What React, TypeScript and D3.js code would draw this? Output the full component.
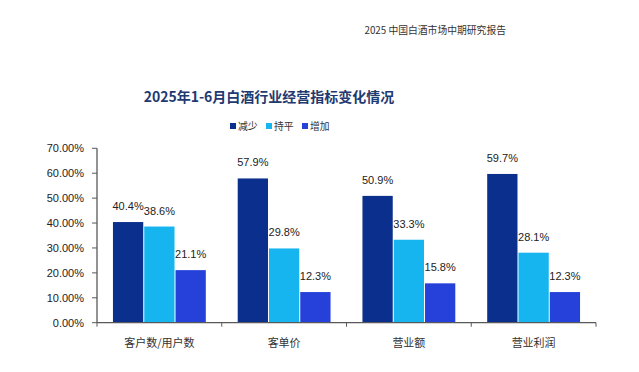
import React from "react";
import * as d3 from "d3";

const categories = ["客户数/用户数", "客单价", "营业额", "营业利润"];
const seriesNames = ["减少", "持平", "增加"];
const decrease = [40.4, 57.9, 50.9, 59.7];
const flat = [38.6, 29.8, 33.3, 28.1];
const increase = [21.1, 12.3, 15.8, 12.3];
const yTicks = [0, 10, 20, 30, 40, 50, 60, 70];
const colors = ["#0b2f8c", "#17b5ef", "#2541d9"];

const W = 639;
const H = 372;
const m = { left: 97, right: 43, top: 148.3, bottom: 49.3 };

export default function App() {
  const series = [decrease, flat, increase];
  const x = d3.scaleBand<string>().domain(categories).range([m.left, W - m.right]).paddingInner(0).paddingOuter(0);
  const inner = d3.scaleBand<string>().domain(seriesNames).range([0, x.bandwidth()]).paddingInner(0.032).paddingOuter(0.51);
  const y = d3.scaleLinear().domain([0, 70]).range([H - m.bottom, m.top]);
  const axisColor = "#595959";
  const numFont = "'Liberation Sans', Arial, sans-serif";
  const cjkFont = "'Noto Sans CJK SC', sans-serif";
  const base = y(0);

  const legendX = [230, 266, 302];

  return (
    <svg width={W} height={H} style={{ position: "absolute", left: 0, top: 0, background: "#fff" }}>
      <rect width={W} height={H} fill="#fff" />
      <text x={506} y={34} textAnchor="end" fontSize={9.8} fill="#333" fontFamily={cjkFont}>
        2025 中国白酒市场中期研究报告
      </text>
      <text x={269} y={102} textAnchor="middle" fontSize={14} fontWeight="bold" fill="#1f3a70" fontFamily={cjkFont}>
        2025年1-6月白酒行业经营指标变化情况
      </text>
      {seriesNames.map((s, i) => (
        <g key={s}>
          <rect x={legendX[i]} y={123} width={6} height={6} fill={colors[i]} />
          <text x={legendX[i] + 8} y={129.5} fontSize={9.8} fill="#333" fontFamily={cjkFont}>
            {s}
          </text>
        </g>
      ))}
      {categories.map((c, ci) => (
        <g key={c}>
          {series.map((vals, si) => {
            const bx = (x(c) as number) + (inner(seriesNames[si]) as number);
            const bw = inner.bandwidth();
            const v = vals[ci];
            return (
              <g key={si}>
                <rect x={bx} y={y(v)} width={bw} height={base - y(v)} fill={colors[si]} />
                <text x={bx + bw / 2} y={y(v) - 12} textAnchor="middle" fontSize={11} fill="#222" fontFamily={numFont}>
                  {v.toFixed(1)}%
                </text>
              </g>
            );
          })}
          <text x={(x(c) as number) + x.bandwidth() / 2} y={347} textAnchor="middle" fontSize={11} fill="#333" fontFamily={cjkFont}>
            {c}
          </text>
        </g>
      ))}
      <line x1={m.left} x2={m.left} y1={y(70)} y2={base} stroke={axisColor} strokeWidth={1.3} />
      {yTicks.map((t) => (
        <g key={t}>
          <line x1={m.left - 5} x2={m.left} y1={y(t)} y2={y(t)} stroke={axisColor} strokeWidth={1} />
          <text x={m.left - 13} y={y(t) + 4} textAnchor="end" fontSize={11} fill="#222" fontFamily={numFont}>
            {t.toFixed(2)}%
          </text>
        </g>
      ))}
      <line x1={m.left} x2={W - m.right} y1={base} y2={base} stroke={axisColor} strokeWidth={1.3} />
      {[...categories.map((c) => x(c) as number), W - m.right].map((tx, i) => (
        <line key={i} x1={tx} x2={tx} y1={base} y2={base + 4} stroke={axisColor} strokeWidth={1} />
      ))}
    </svg>
  );
}
